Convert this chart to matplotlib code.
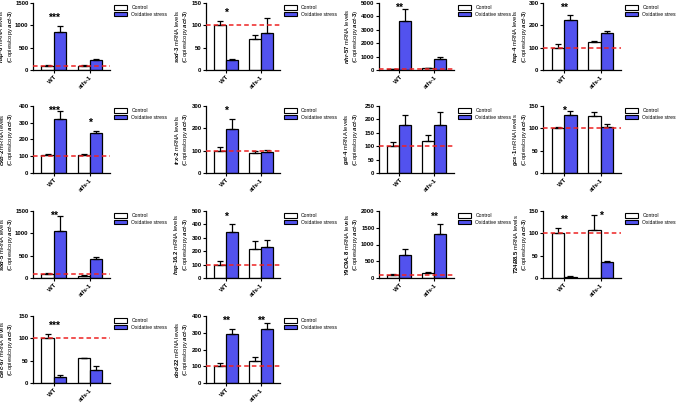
import numpy as np
import matplotlib
matplotlib.use("Agg")
import matplotlib.pyplot as plt
from matplotlib.patches import Patch

plt.rcParams['font.family'] = ['Liberation Sans', 'DejaVu Sans']
plt.rcParams['font.weight'] = 'bold'
plt.rcParams['mathtext.fontset'] = 'custom'
plt.rcParams['mathtext.rm'] = 'Liberation Sans:bold'
plt.rcParams['mathtext.it'] = 'Liberation Sans:italic:bold'

# data
groups = ["WT", "atfs-1"]
genes = ["hsp-6", "sod-3", "nhr-57", "hsp-4",
         "ckb-2", "trx-2", "gst-4", "gcs-1",
         "sod-5", "hsp-16.2", "Y9C9A.8", "T24B8.5",
         "clec-67", "dod-22"]
ctrl_mean = [[100, 100], [100, 70], [60, 150], [100, 127],
             [105, 105], [100, 88], [100, 118], [100, 127],
             [97, 52], [100, 218], [90, 160], [100, 108],
             [100, 55], [100, 133]]
ctrl_err = [[5, 5], [10, 8], [10, 30], [18, 5],
            [10, 10], [18, 12], [15, 22], [2, 9],
            [8, 5], [25, 60], [20, 30], [13, 32],
            [10, 2], [20, 25]]
stress_mean = [[840, 225], [22, 82], [3690, 800], [222, 165],
               [321, 238], [198, 95], [180, 180], [130, 104],
               [1050, 435], [345, 230], [700, 1320], [3, 35],
               [14, 28], [295, 323]]
stress_err = [[155, 25], [3, 34], [860, 200], [26, 10],
              [49, 15], [44, 8], [35, 48], [8, 6],
              [330, 30], [55, 55], [160, 280], [1, 4],
              [5, 9], [27, 34]]
y_max = [1500, 150, 5000, 300, 400, 300, 250, 150, 1500, 500, 2000, 150, 150, 400]
y_step = [500, 50, 1000, 100, 100, 100, 50, 50, 500, 100, 500, 50, 50, 100]
stars = [["***", ""], ["*", ""], ["**", ""], ["**", ""],
         ["***", "*"], ["*", ""], ["", ""], ["*", ""],
         ["**", ""], ["*", ""], ["", "**"], ["**", "*"],
         ["***", ""], ["**", "**"]]

blue = "#5252ee"
fig = plt.figure(figsize=(6.76, 4.04), dpi=100)

col_left = [33, 206, 379, 543]
col_width = [77, 74, 75, 78]
label_off = [-18, -16, -19, -14]
row_bottom = [70, 173, 278, 383]
ax_h = 67

x = np.arange(len(groups))
w = 0.34
for i, gene in enumerate(genes):
    r, c = divmod(i, 4)
    ax = fig.add_axes([col_left[c] / 676, 1 - row_bottom[r] / 404,
                       col_width[c] / 676, ax_h / 404])
    ax.bar(x - w / 2, ctrl_mean[i], w, color="white", edgecolor="black", linewidth=0.9,
           yerr=[[0, 0], ctrl_err[i]], error_kw=dict(elinewidth=0.9, capsize=2.5, capthick=0.9))
    ax.bar(x + w / 2, stress_mean[i], w, color=blue, edgecolor="black", linewidth=0.9,
           yerr=[[0, 0], stress_err[i]], error_kw=dict(elinewidth=0.9, capsize=2.5, capthick=0.9))
    ax.axhline(100, color="#ee2222", linestyle="--", linewidth=1.1, dashes=(3, 2), zorder=5)
    ax.set_xlim(-0.575, 1.555)
    ax.set_ylim(0, y_max[i])
    ax.set_yticks(np.arange(0, y_max[i] + 1, y_step[i]))
    ax.set_xticks(x)
    ax.set_xticklabels(groups, rotation=45, ha="right", rotation_mode="anchor")
    ax.tick_params(labelsize=4.3, length=2, width=0.8, pad=1.2)
    for s in ["top", "right"]:
        ax.spines[s].set_visible(False)
    for s in ["left", "bottom"]:
        ax.spines[s].set_linewidth(0.9)
    g = "-".join(r"$\it{" + p + "}$" for p in gene.split("-"))
    ax.set_ylabel(g + " mRNA levels\n" + r"(Copies/copy $\it{act}$-$\it{3}$)",
                  fontsize=4.2, linespacing=1.05)
    ax.yaxis.set_label_coords(label_off[c] / col_width[c], 0.5)
    for j in range(2):
        if stars[i][j]:
            top = max(ctrl_mean[i][j] + ctrl_err[i][j], stress_mean[i][j] + stress_err[i][j])
            ypos = min(top + 0.12 * y_max[i], 0.93 * y_max[i])
            ax.text(x[j], ypos, stars[i][j], ha="center", va="center", fontsize=7.5)
    handles = [Patch(facecolor="white", edgecolor="black", linewidth=0.8),
               Patch(facecolor=blue, edgecolor="black", linewidth=0.8)]
    ax.legend(handles, ["Control", "Oxidative stress"], loc="upper left",
              bbox_to_anchor=(1.03, 1.0), frameon=False,
              handlelength=2.6, handleheight=1.0, handletextpad=0.8,
              labelspacing=0.35, borderaxespad=0, prop={'weight': 'normal', 'size': 3.6})

fig.savefig("out.png", dpi=100)
